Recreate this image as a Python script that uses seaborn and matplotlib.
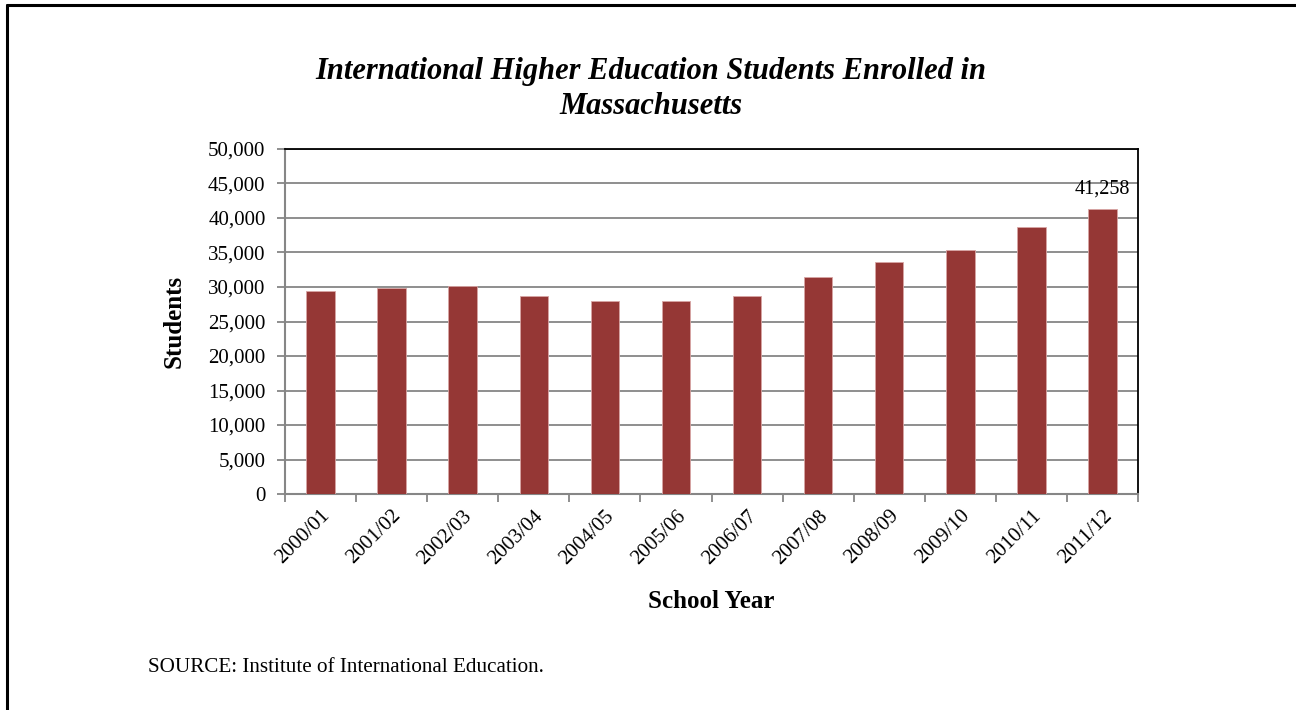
import matplotlib
matplotlib.use("Agg")
import matplotlib.pyplot as plt
import seaborn as sns
import numpy as np
import pandas as pd
from matplotlib.lines import Line2D
from matplotlib.ticker import FuncFormatter, FixedLocator

years = ["2000/01", "2001/02", "2002/03", "2003/04", "2004/05", "2005/06",
         "2006/07", "2007/08", "2008/09", "2009/10", "2010/11", "2011/12"]
students = [29380, 29860, 30100, 28650, 27930, 27930,
            28650, 31510, 33690, 35330, 38650, 41258]
yticks = [0, 5000, 10000, 15000, 20000, 25000, 30000, 35000, 40000, 45000, 50000]

df = pd.DataFrame({"year": years, "students": students})

sns.set_theme(style="white")
plt.rcParams["font.family"] = ["Liberation Serif", "DejaVu Serif"]
plt.rcParams["text.color"] = "black"
plt.rcParams["axes.labelcolor"] = "black"

fig = plt.figure(figsize=(12.96, 7.10), dpi=100)
ax = fig.add_axes([285/1296, 1 - 494/710, (1138-285)/1296, (494-149)/710])

sns.barplot(data=df, x="year", y="students", color="#953735", width=0.4,
            saturation=1, edgecolor="#d8a5a4", linewidth=0.6, ax=ax, zorder=3)

ax.set_ylim(0, 50000)
ax.set_xlim(-0.5, len(years) - 0.5)
ax.yaxis.set_major_locator(FixedLocator(yticks))
ax.yaxis.set_major_formatter(FuncFormatter(lambda v, p: f"{int(v):,}"))
ax.grid(axis="y", color="#868686", linewidth=1.3, zorder=0)
ax.set_axisbelow(True)

for s in ["left", "bottom"]:
    ax.spines[s].set_color("#868686")
    ax.spines[s].set_linewidth(1.5)
for s in ["top", "right"]:
    ax.spines[s].set_color("#000000")
    ax.spines[s].set_linewidth(1.3)

ax.tick_params(axis="y", which="major", left=True, length=6, width=1.3,
               color="#868686", labelsize=15, pad=8, labelcolor="black")
ax.set_xticks(range(len(years)))
ax.set_xticklabels(years, rotation=45, ha="right", rotation_mode="anchor")
ax.tick_params(axis="x", which="major", length=0, labelsize=15, pad=9, labelcolor="black")
ax.set_xticks(np.arange(-0.5, len(years), 1.0), minor=True)
ax.tick_params(axis="x", which="minor", bottom=True, length=6, width=1.3, color="#868686")

ax.set_xlabel("School Year", fontsize=18, fontweight="bold", labelpad=16)
ax.set_ylabel("Students", fontsize=18, fontweight="bold", labelpad=16)

ax.text(len(years) - 1, students[-1] + 1600, f"{students[-1]:,}", ha="center",
        va="bottom", fontsize=14.5)

fig.text(651/1296, 1 - 89/710, "International Higher Education Students Enrolled in\nMassachusetts",
         ha="center", va="center", fontsize=22, fontweight="bold", fontstyle="italic",
         linespacing=1.3)

fig.text(148/1296, 1 - 668/710, "SOURCE: Institute of International Education.",
         ha="left", va="center", fontsize=15.2)

fig.add_artist(Line2D([7/1296, 7/1296], [0, 1 - 5/710], transform=fig.transFigure,
                      color="black", linewidth=2.2))
fig.add_artist(Line2D([7/1296, 1], [1 - 5/710, 1 - 5/710], transform=fig.transFigure,
                      color="black", linewidth=2.2))

fig.savefig("out.png", dpi=100, facecolor="white")
